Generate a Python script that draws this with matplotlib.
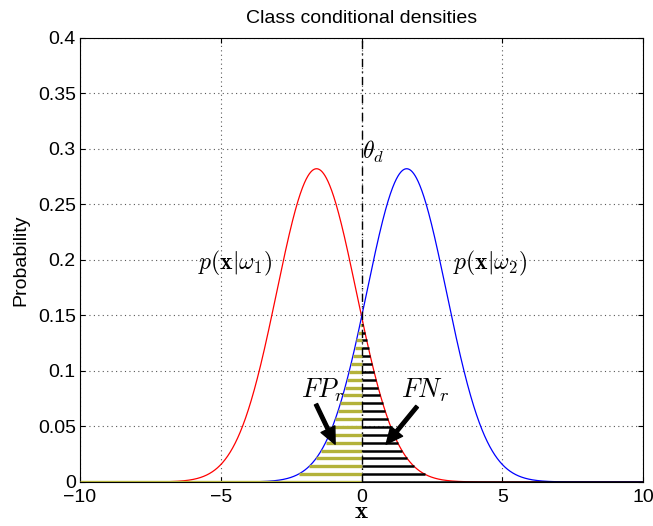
import numpy as np
import matplotlib
matplotlib.use("Agg")
import matplotlib.pyplot as plt

plt.rcParams['font.family'] = ['Liberation Sans', 'DejaVu Sans']
plt.rcParams['mathtext.fontset'] = 'cm'

# class parameters (peak 0.282, crossing 0.15 at x=0)
means = [-1.6, 1.6]
sigmas = [1.414, 1.414]
colors = ['red', 'blue']
labels = [r'$p(\mathbf{x}|\omega_1)$', r'$p(\mathbf{x}|\omega_2)$']
label_pos = [(-4.48, 0.197), (4.56, 0.197)]
threshold = 0.0
n_hatch = 21  # number of horizontal lines under the tails
xticks = [-10, -5, 0, 5, 10]
yticks = [0, 0.05, 0.1, 0.15, 0.2, 0.25, 0.3, 0.35, 0.4]


def gauss(x, m, s):
    return np.exp(-(x - m) ** 2 / (2 * s ** 2)) / (s * np.sqrt(2 * np.pi))


fig = plt.figure(figsize=(6.53, 5.26), dpi=100)
ax = fig.add_axes([0.1225, 0.0837, 0.8625, 0.8443])

x = np.linspace(-10, 10, 2001)
for m, s, c in zip(means, sigmas, colors):
    ax.plot(x, gauss(x, m, s), color=c, lw=0.9, zorder=2)

# hatch lines: FP region (left of threshold under class 2) and FN region (right under class 1)
y_cross = gauss(threshold, means[0], sigmas[0])
levels = np.arange(n_hatch) * y_cross / n_hatch
for y in levels:
    if y == 0:
        xl, xr = -10, 10
    else:
        d2 = np.sqrt(-2 * sigmas[1] ** 2 * np.log(y * sigmas[1] * np.sqrt(2 * np.pi)))
        d1 = np.sqrt(-2 * sigmas[0] ** 2 * np.log(y * sigmas[0] * np.sqrt(2 * np.pi)))
        xl, xr = means[1] - d2, means[0] + d1
    ax.plot([xl, threshold], [y, y], color='#b3b23a', lw=2.4, solid_capstyle='butt', zorder=3)
    ax.plot([threshold, xr], [y, y], color='black', lw=1.8, solid_capstyle='butt', zorder=3)

ax.axvline(threshold, color='black', ls=(0, (6, 3, 1, 3)), lw=1.0, zorder=4)
ax.text(threshold, 0.297, r'$\theta_d$', fontsize=17, ha='left', va='center')

for lab, (lx, ly) in zip(labels, label_pos):
    ax.text(lx, ly, lab, fontsize=17, ha='center', va='center')

arrow = dict(facecolor='black', edgecolor='black', width=2.5, headwidth=11, headlength=12)
ax.annotate('', xy=(-0.94, 0.034), xytext=(-1.62, 0.070), arrowprops=arrow)
ax.annotate('', xy=(0.87, 0.034), xytext=(1.97, 0.068), arrowprops=arrow)
ax.text(-1.37, 0.083, r'$FP_r$', fontsize=19, ha='center', va='center')
ax.text(2.26, 0.083, r'$FN_r$', fontsize=19, ha='center', va='center')

ax.set_xlim(-10, 10)
ax.set_ylim(0, 0.4)
ax.set_xticks(xticks)
ax.set_yticks(yticks)
ax.set_xticklabels(['\u221210', '\u22125', '0', '5', '10'])
ax.set_yticklabels(['0', '0.05', '0.1', '0.15', '0.2', '0.25', '0.3', '0.35', '0.4'])
ax.tick_params(direction='in', top=True, right=True, labelsize=14)
ax.tick_params(axis='x', pad=5)
ax.tick_params(axis='y', pad=3)
ax.grid(True, ls=(0, (1, 3)), color='0.35', lw=0.8)
ax.set_title('Class conditional densities', fontsize=14, pad=11)
ax.set_ylabel('Probability', fontsize=14, labelpad=6)
ax.set_xlabel(r'$\mathbf{x}$', fontsize=18, labelpad=-5)

fig.savefig('out.png', dpi=100)
